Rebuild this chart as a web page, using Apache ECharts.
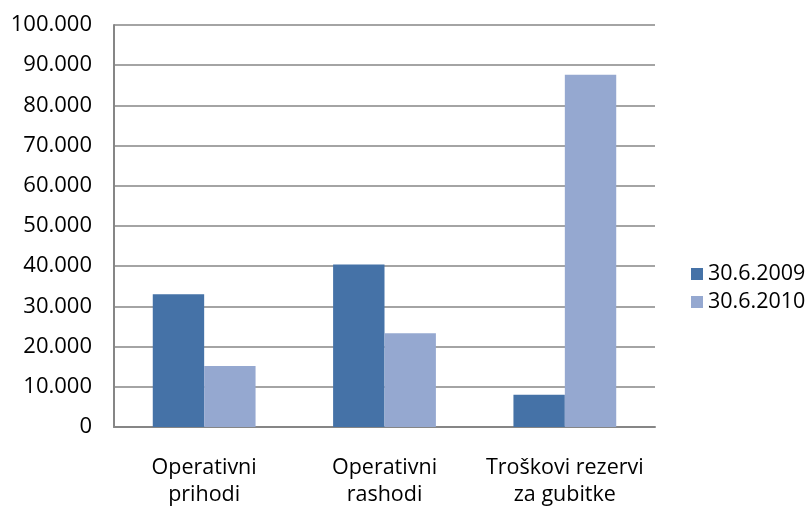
<!DOCTYPE html>
<html>
<head>
<meta charset="utf-8">
<script src="https://cdn.jsdelivr.net/npm/echarts@6/dist/echarts.min.js"></script>
<style>
html,body{margin:0;padding:0;background:#fff;}
#c{width:811px;height:508px;}
</style>
</head>
<body>
<div id="c"></div>
<script>
const categories = ['Operativni\nprihodi', 'Operativni\nrashodi', 'Troškovi rezervi\nza gubitke'];
const seriesNames = ['30.6.2009', '30.6.2010'];
const values2009 = [33000, 40400, 8000];
const values2010 = [15200, 23300, 87600];
const yTicks = { min: 0, max: 100000, interval: 10000 };

const chart = echarts.init(document.getElementById('c'), null, { renderer: 'canvas' });
const font = '"Open Sans", sans-serif';
chart.setOption({
  animation: false,
  backgroundColor: '#ffffff',
  grid: { left: 114, right: 156, top: 25, bottom: 81, containLabel: false },
  legend: {
    orient: 'vertical',
    left: 686,
    top: 258,
    itemWidth: 12,
    itemHeight: 12,
    itemGap: 6,
    icon: 'rect',
    textStyle: { fontFamily: font, fontSize: 21.5, color: '#000' },
    data: seriesNames
  },
  xAxis: {
    type: 'category',
    data: categories,
    axisLine: { lineStyle: { color: '#868686', width: 2 } },
    axisTick: { show: false },
    axisLabel: { fontFamily: font, fontSize: 21.5, color: '#000', lineHeight: 27, margin: 27, interval: 0 }
  },
  yAxis: {
    type: 'value',
    min: yTicks.min, max: yTicks.max, interval: yTicks.interval,
    axisLine: { show: true, lineStyle: { color: '#868686', width: 2 } },
    axisTick: { show: false },
    splitLine: { lineStyle: { color: '#868686', width: 1.5 } },
    axisLabel: {
      fontFamily: font, fontSize: 22, color: '#000', margin: 22,
      formatter: v => v === 0 ? '0' : (v / 1000).toFixed(0) + '.000'
    }
  },
  series: [
    { name: seriesNames[0], type: 'bar', data: values2009, barGap: '0%', barCategoryGap: '43%',
      itemStyle: { color: '#4572A7' } },
    { name: seriesNames[1], type: 'bar', data: values2010, barGap: '0%', barCategoryGap: '43%',
      itemStyle: { color: '#95A8D0' } }
  ]
});
</script>
</body>
</html>
